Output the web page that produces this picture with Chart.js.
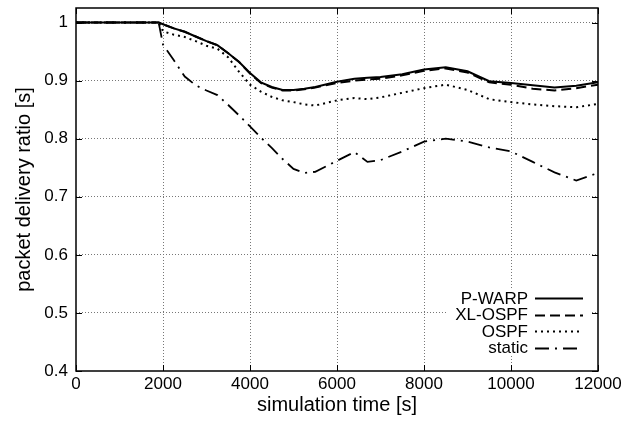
<!DOCTYPE html>
<html>
<head>
<meta charset="utf-8">
<script src="https://cdn.jsdelivr.net/npm/chart.js@4/dist/chart.umd.min.js"></script>
<style>
  html, body { margin: 0; padding: 0; background: #fff; }
  canvas { display: block; }
</style>
</head>
<body>
<canvas id="chart" width="636" height="422"></canvas>
<script>
// sample times [s], shared by all series
const times = [0, 1900, 2000, 2250, 2500, 2750, 3000, 3250, 3500, 3750, 4000, 4250, 4500, 4750, 5000, 5250, 5500, 6000, 6400, 6700, 7000, 7500, 8000, 8500, 9000, 9500, 10000, 10500, 11000, 11500, 12000];

const pwarp = [1, 1, 0.997, 0.99, 0.984, 0.976, 0.968, 0.961, 0.947, 0.932, 0.913, 0.897, 0.889, 0.884, 0.884, 0.886, 0.889, 0.898, 0.903, 0.905, 0.906, 0.911, 0.919, 0.923, 0.916, 0.899, 0.896, 0.892, 0.888, 0.891, 0.897];
const xlospf = [1, 1, 0.997, 0.99, 0.984, 0.976, 0.968, 0.961, 0.947, 0.932, 0.912, 0.896, 0.888, 0.883, 0.883, 0.885, 0.888, 0.896, 0.900, 0.902, 0.903, 0.909, 0.917, 0.921, 0.914, 0.897, 0.893, 0.886, 0.883, 0.887, 0.893];
const ospf = [1, 1, 0.985, 0.979, 0.975, 0.968, 0.96, 0.955, 0.94, 0.915, 0.893, 0.881, 0.872, 0.866, 0.863, 0.859, 0.857, 0.866, 0.870, 0.868, 0.871, 0.879, 0.887, 0.893, 0.884, 0.868, 0.863, 0.859, 0.856, 0.854, 0.860];
const staticRt = [1, 1, 0.962, 0.935, 0.907, 0.892, 0.883, 0.875, 0.858, 0.84, 0.821, 0.802, 0.784, 0.765, 0.748, 0.741, 0.743, 0.762, 0.777, 0.760, 0.763, 0.778, 0.795, 0.800, 0.795, 0.785, 0.778, 0.760, 0.742, 0.728, 0.741];

const xTicks = [0, 2000, 4000, 6000, 8000, 10000, 12000];
const yTicks = [0.4, 0.5, 0.6, 0.7, 0.8, 0.9, 1];

const FONT = "'Liberation Sans', Arial, Helvetica, sans-serif";

function series(values) {
  return values.map((v, i) => ({ x: times[i], y: v }));
}

// gnuplot style frame, inward ticks and opaque key
const gnuplotFrame = {
  id: 'gnuplotFrame',
  afterDatasetsDraw(chart) {
    const { ctx, chartArea: a, scales } = chart;
    ctx.save();
    ctx.strokeStyle = '#000';
    ctx.lineWidth = 1;
    ctx.setLineDash([]);
    const len = 6;
    xTicks.forEach(v => {
      const px = Math.round(scales.x.getPixelForValue(v)) + 0.5;
      ctx.beginPath();
      ctx.moveTo(px, a.bottom); ctx.lineTo(px, a.bottom - len);
      ctx.moveTo(px, a.top); ctx.lineTo(px, a.top + len);
      ctx.stroke();
    });
    yTicks.forEach(v => {
      const py = Math.round(scales.y.getPixelForValue(v)) + 0.5;
      ctx.beginPath();
      ctx.moveTo(a.left, py); ctx.lineTo(a.left + len, py);
      ctx.moveTo(a.right, py); ctx.lineTo(a.right - len, py);
      ctx.stroke();
    });

    // key
    ctx.fillStyle = '#fff';
    ctx.fillRect(448, 288, 144, 68);
    ctx.font = '17px ' + FONT;
    ctx.textAlign = 'right';
    ctx.textBaseline = 'middle';
    chart.data.datasets.forEach((ds, i) => {
      const y = 298 + i * 16.6;
      ctx.fillStyle = '#000';
      ctx.fillText(ds.label, 528, y + 1);
      ctx.beginPath();
      ctx.strokeStyle = ds.borderColor;
      ctx.lineWidth = ds.borderWidth;
      ctx.setLineDash(ds.borderDash || []);
      ctx.moveTo(535, Math.round(y) + 0.5);
      ctx.lineTo(583, Math.round(y) + 0.5);
      ctx.stroke();
    });

    // frame
    ctx.setLineDash([]);
    ctx.strokeStyle = '#000';
    ctx.lineWidth = 1.5;
    ctx.strokeRect(a.left, a.top, a.right - a.left, a.bottom - a.top);
    ctx.restore();
  }
};

const gridColor = (ctx, edges) =>
  edges.includes(ctx.tick && ctx.tick.value) ? 'rgba(0,0,0,0)' : '#777';

new Chart(document.getElementById('chart'), {
  type: 'line',
  data: {
    datasets: [
      { label: 'P-WARP', data: series(pwarp), borderColor: '#000', borderWidth: 2, borderDash: [] },
      { label: 'XL-OSPF', data: series(xlospf), borderColor: '#000', borderWidth: 2, borderDash: [10, 5] },
      { label: 'OSPF', data: series(ospf), borderColor: '#000', borderWidth: 2, borderDash: [2, 4] },
      { label: 'static', data: series(staticRt), borderColor: '#000', borderWidth: 1.8, borderDash: [14, 6, 2, 6] }
    ]
  },
  options: {
    responsive: false,
    animation: false,
    devicePixelRatio: 1,
    layout: { padding: { top: 8, right: 38, left: 0, bottom: 0 } },
    elements: {
      point: { radius: 0 },
      line: { tension: 0, fill: false, borderCapStyle: 'butt' }
    },
    plugins: {
      legend: { display: false },
      tooltip: { enabled: false }
    },
    scales: {
      x: {
        type: 'linear',
        min: 0,
        max: 12000,
        afterFit: s => { s.height = 51; s.paddingLeft = 0; s.paddingRight = 0; },
        afterBuildTicks: s => { s.ticks = xTicks.map(v => ({ value: v })); },
        ticks: { color: '#000', font: { family: FONT, size: 17 }, padding: 3, maxRotation: 0, callback: v => String(v) },
        grid: { drawTicks: false, lineWidth: 1, color: c => gridColor(c, [0, 12000]) },
        border: { display: false, dash: [1, 2] },
        title: { display: true, text: 'simulation time [s]', color: '#000', font: { family: FONT, size: 20 }, padding: { top: 0, bottom: 5 } }
      },
      y: {
        type: 'linear',
        min: 0.4,
        max: 1.025,
        afterFit: s => { s.width = 76; s.paddingTop = 0; s.paddingBottom = 0; },
        afterBuildTicks: s => { s.ticks = yTicks.map(v => ({ value: v })); },
        ticks: { color: '#000', font: { family: FONT, size: 17 }, padding: 8, callback: v => (v === 1 ? '1' : v.toFixed(1)) },
        grid: { drawTicks: false, lineWidth: 1, color: c => gridColor(c, [0.4]) },
        border: { display: false, dash: [1, 2] },
        title: { display: true, text: 'packet delivery ratio [s]', color: '#000', font: { family: FONT, size: 20 }, padding: { top: 12, bottom: 0 } }
      }
    }
  },
  plugins: [gnuplotFrame]
});
</script>
</body>
</html>
